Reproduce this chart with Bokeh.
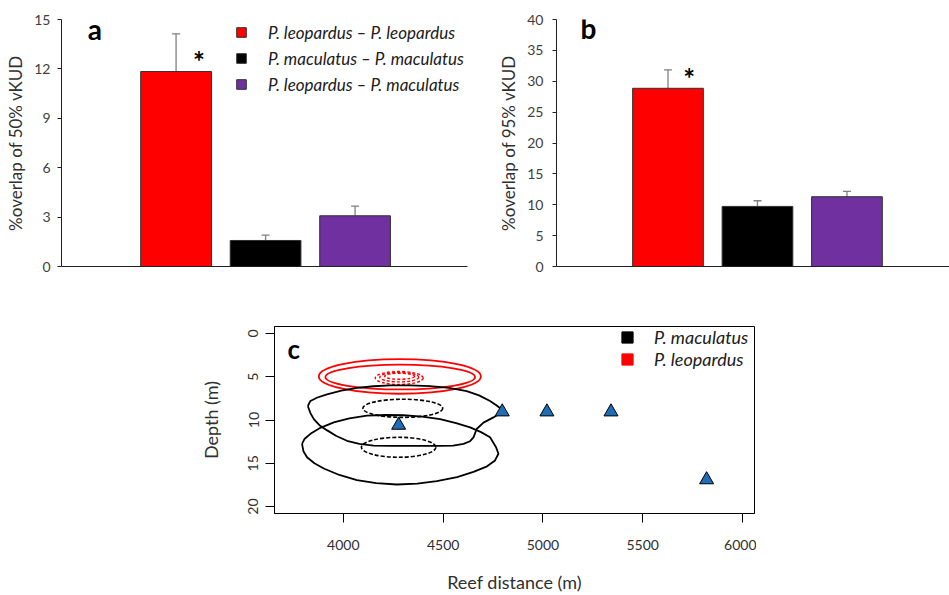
from bokeh.plotting import figure
from bokeh.models import (Range1d, FixedTicker, ColumnDataSource, Whisker, TeeHead,
                          Legend, LegendItem, Label, Spacer)
from bokeh.layouts import column, row
from bokeh.embed import file_html
from bokeh.resources import INLINE

# ---------------- data ----------------
pairs = ["P. leopardus \u2013 P. leopardus",
         "P. maculatus \u2013 P. maculatus",
         "P. leopardus \u2013 P. maculatus"]
bar_colors = ["#FF0000", "#000000", "#7030A0"]

overlap50 = [11.84, 1.58, 3.08]
se50 = [2.29, 0.33, 0.59]
overlap95 = [28.86, 9.73, 11.30]
se95 = [2.98, 0.92, 0.86]
ticks50 = [0, 3, 6, 9, 12, 15]
ticks95 = [0, 5, 10, 15, 20, 25, 30, 35, 40]

# panel c : receiver stations (triangles)
station_x = [4277, 4796, 5020, 5341, 5820]
station_depth = [10.6, 9.06, 9.06, 9.06, 16.9]

# P. leopardus contours (ellipses): 95% solid, 50% dashed
leo95_x = [4283, 4285]
leo95_y = [4.97, 5.04]
leo95_w = [812, 750]
leo95_h = [4.0, 2.86]
leo50_x = [4280, 4280, 4282]
leo50_y = [5.15, 5.05, 4.95]
leo50_w = [240, 195, 150]
leo50_h = [1.5, 1.1, 0.7]

# P. maculatus contours
mac50_x = [4298, 4277]
mac50_y = [8.65, 13.15]
mac50_w = [400, 373]
mac50_h = [2.1, 2.3]
mac95a_x = [3822, 3835, 3852, 3880, 3919, 3965, 4018, 4080, 4152, 4235, 4318, 4400, 4485, 4550,
            4602, 4635, 4652, 4668, 4702, 4752, 4802, 4770, 4735, 4680, 4618, 4530, 4435, 4335,
            4235, 4150, 4068, 3990, 3918, 3870, 3835, 3822]
mac95a_y = [8.38, 9.2, 9.9, 10.6, 11.2, 11.85, 12.4, 12.75, 12.95, 13.0, 13.0, 13.0, 13.0, 12.95,
            12.76, 12.45, 12.0, 11.04, 10.3, 9.7, 8.95, 8.35, 7.8, 7.15, 6.66, 6.3, 6.09, 6.0,
            6.0, 6.1, 6.28, 6.6, 7.04, 7.4, 7.8, 8.38]
mac95b_x = [3793, 3800, 3818, 3855, 3902, 3980, 4068, 4165, 4268, 4370, 4468, 4570, 4652, 4720,
            4760, 4777, 4765, 4735, 4690, 4635, 4565, 4485, 4395, 4302, 4210, 4118, 4030, 3952,
            3885, 3835, 3805, 3793]
mac95b_y = [12.76, 13.6, 14.3, 15.0, 15.6, 16.35, 16.95, 17.3, 17.45, 17.35, 17.06, 16.6, 16.0,
            15.35, 14.67, 13.9, 13.14, 12.0, 11.4, 10.86, 10.35, 9.9, 9.6, 9.45, 9.42, 9.5, 9.8,
            10.28, 10.9, 11.6, 12.2, 12.76]
species = ["P. maculatus", "P. leopardus"]
species_colors = ["#000000", "#FF0000"]
xticks_c = [4000, 4500, 5000, 5500, 6000]
yticks_c = [0, 5, 10, 15, 20]

FONT = "Lato"
NAN = float("nan")


def bar_panel(values, errs, ticks, ymax, ylabel, width, xr, border_left, border_right,
              letter, letter_xy, star_xy, show_legend, label_standoff):
    xs = [i + 1 for i in range(len(values))]
    src = ColumnDataSource(dict(x=xs, value=values, upper=[v + e for v, e in zip(values, errs)],
                                color=bar_colors, label=pairs))
    p = figure(width=width, height=280, output_backend="svg", toolbar_location=None,
               x_range=Range1d(*xr), y_range=Range1d(0, ymax),
               min_border_left=border_left, min_border_right=border_right,
               min_border_top=19, min_border_bottom=14)
    p.outline_line_color = None
    p.grid.visible = False
    p.background_fill_color = "white"
    p.border_fill_color = "white"

    r = p.vbar(x="x", top="value", width=0.79, source=src, fill_color="color",
               line_color="#303030", line_width=1)
    wh = Whisker(source=src, base="x", upper="upper", lower="value", dimension="height",
                 line_color="#808080", line_width=1.3,
                 upper_head=TeeHead(size=8, line_color="#808080", line_width=1.3),
                 lower_head=None)
    p.add_layout(wh)

    ya = p.yaxis[0]
    ya.ticker = FixedTicker(ticks=ticks)
    ya.minor_tick_line_color = None
    ya.major_tick_out = 4
    ya.major_tick_in = 0
    ya.major_label_standoff = label_standoff
    ya.major_label_text_font = FONT
    ya.major_label_text_font_size = "14px"
    ya.major_label_text_color = "#404040"
    ya.axis_line_color = "#202020"
    ya.major_tick_line_color = "#202020"
    ya.axis_label = ylabel
    ya.axis_label_text_font = FONT
    ya.axis_label_text_font_size = "17px"
    ya.axis_label_text_font_style = "normal"
    ya.axis_label_text_color = "#303030"
    ya.axis_label_standoff = 5

    xa = p.xaxis[0]
    xa.ticker = FixedTicker(ticks=[])
    xa.major_tick_line_color = None
    xa.minor_tick_line_color = None
    xa.major_label_standoff = 0
    xa.axis_line_color = "#202020"

    p.add_layout(Label(x=letter_xy[0], y=letter_xy[1], text=letter, text_font=FONT,
                       text_font_size="28px", text_font_style="bold", text_color="black",
                       text_align="left", text_baseline="alphabetic"))
    p.add_layout(Label(x=star_xy[0], y=star_xy[1], text="*", text_font=FONT,
                       text_font_size="28px", text_font_style="bold", text_color="black",
                       text_align="center", text_baseline="middle"))

    if show_legend:
        items = [LegendItem(label=lab, renderers=[r], index=i) for i, lab in enumerate(pairs)]
        lg = Legend(items=items, location=(174, 171), orientation="vertical",
                    glyph_width=12, glyph_height=12, label_height=22, spacing=4,
                    label_standoff=21, padding=0, margin=0,
                    border_line_color=None, background_fill_alpha=0,
                    label_text_font=FONT, label_text_font_style="italic",
                    label_text_font_size="17px", label_text_color="#202020")
        p.add_layout(lg, "center")
    return p


fa = bar_panel(overlap50, se50, ticks50, 15, "%overlap of 50% vKUD", 480, (-0.28, 4.256),
               61, 13, "a", (0.013, 14.45), (1.257, 12.45), True, 7)
fb = bar_panel(overlap95, se95, ticks95, 40, "%overlap of 95% vKUD", 469, (-0.246, 4.146),
               76, 0, "b", (0.022, 38.6), (1.237, 30.6), False, 9)

# ---------------- panel c ----------------
fc = figure(width=576, height=315, output_backend="svg", toolbar_location=None,
            x_range=Range1d(3655, 6060), y_range=Range1d(20.8, -0.8),
            min_border_left=94, min_border_right=2, min_border_top=46, min_border_bottom=82)
fc.grid.visible = False
fc.outline_line_color = "black"
fc.outline_line_width = 1

fc.ellipse(x=leo95_x, y=leo95_y, width=leo95_w, height=leo95_h, fill_color=None,
           line_color="#FF0000", line_width=1.8)
fc.ellipse(x=leo50_x, y=leo50_y, width=leo50_w, height=leo50_h, fill_color=None,
           line_color="#FF0000", line_width=1.4, line_dash="3 2")
fc.ellipse(x=mac50_x, y=mac50_y, width=mac50_w, height=mac50_h, fill_color=None,
           line_color="black", line_width=1.6, line_dash="4 2")
fc.line(mac95a_x, mac95a_y, line_color="black", line_width=1.8, line_join="round")
fc.line(mac95b_x, mac95b_y, line_color="black", line_width=1.8, line_join="round")
fc.scatter(station_x, station_depth, marker="triangle", size=14, fill_color="#1F6DB4",
           line_color="black", line_width=1)

# legend swatches: one placeholder row (not drawn) per species
leg_src = ColumnDataSource(dict(left=[NAN] * len(species), right=[NAN] * len(species),
                                top=[NAN] * len(species), bottom=[NAN] * len(species),
                                color=species_colors, label=species))
rr = fc.quad(left="left", right="right", top="top", bottom="bottom", source=leg_src,
             fill_color="color", line_color="color")
leg_items = [LegendItem(label=sp, renderers=[rr], index=i) for i, sp in enumerate(species)]
lgc = Legend(items=leg_items, location=(346, 143), orientation="vertical",
             glyph_width=14, glyph_height=14, label_height=22, spacing=0,
             label_standoff=20, padding=0, margin=0, border_line_color=None,
             background_fill_alpha=0, label_text_font=FONT, label_text_font_style="italic",
             label_text_font_size="18px", label_text_color="#202020")
fc.add_layout(lgc, "center")

fc.add_layout(Label(x=3720, y=1.76, text="c", text_font=FONT, text_font_size="26px",
                    text_font_style="bold", text_color="black", text_align="left",
                    text_baseline="alphabetic"))

xa = fc.xaxis[0]
xa.ticker = FixedTicker(ticks=xticks_c)
xa.minor_tick_line_color = None
xa.major_tick_out = 9
xa.major_tick_in = 0
xa.major_label_standoff = 17
xa.major_label_text_font = FONT
xa.major_label_text_font_size = "14px"
xa.major_label_text_color = "#303030"
xa.axis_label = "Reef distance (m)"
xa.axis_label_text_font = FONT
xa.axis_label_text_font_size = "18px"
xa.axis_label_text_font_style = "normal"
xa.axis_label_text_color = "#303030"
xa.axis_label_standoff = 18

ya = fc.yaxis[0]
ya.ticker = FixedTicker(ticks=yticks_c)
ya.minor_tick_line_color = None
ya.major_tick_out = 9
ya.major_tick_in = 0
ya.major_label_standoff = 7
ya.major_label_orientation = "vertical"
ya.major_label_text_font = FONT
ya.major_label_text_font_size = "14px"
ya.major_label_text_color = "#303030"
ya.axis_label = "Depth (m)"
ya.axis_label_text_font = FONT
ya.axis_label_text_font_size = "18px"
ya.axis_label_text_font_style = "normal"
ya.axis_label_text_color = "#303030"
ya.axis_label_standoff = 24

layout = column(row(fa, fb), row(Spacer(width=180, height=315), fc))
open("out.html", "w").write(file_html(layout, INLINE))
